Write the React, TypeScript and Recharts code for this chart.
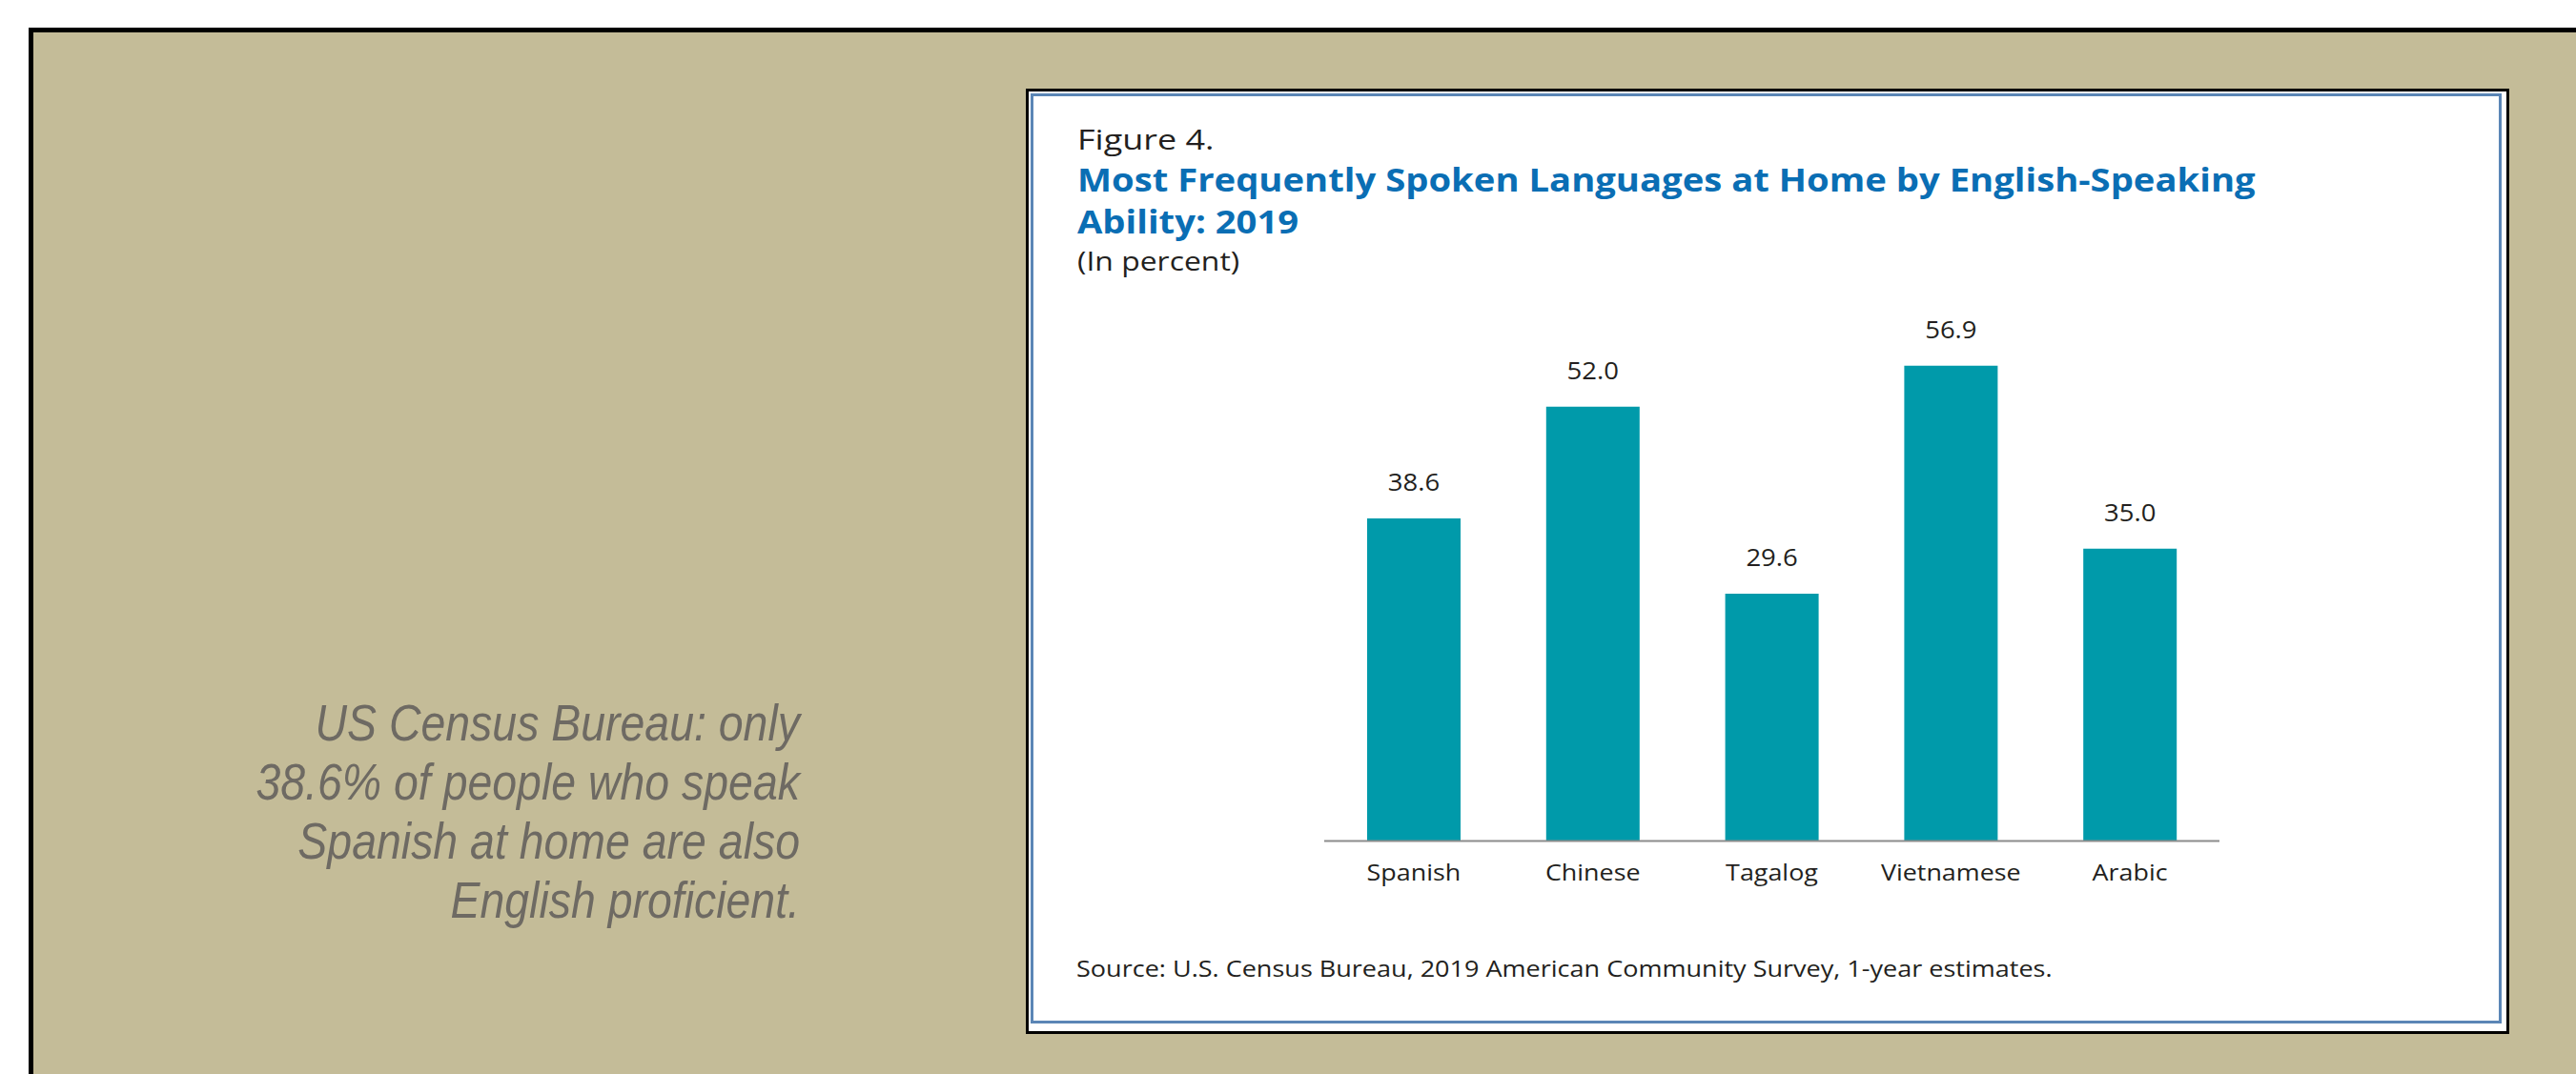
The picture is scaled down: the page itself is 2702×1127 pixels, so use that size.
import { BarChart, Bar, XAxis, YAxis, LabelList } from "recharts";

const languages = ["Spanish", "Chinese", "Tagalog", "Vietnamese", "Arabic"];
const percents = [38.6, 52.0, 29.6, 56.9, 35.0];
const yDomain = [0, 60];

const noteLines = [
  "US Census Bureau: only",
  "38.6% of people who speak",
  "Spanish at home are also",
  "English proficient.",
];

const figureLabel = "Figure 4.";
const titleLines = [
  "Most Frequently Spoken Languages at Home by English-Speaking",
  "Ability: 2019",
];
const unitLabel = "(In percent)";
const sourceNote =
  "Source: U.S. Census Bureau, 2019 American Community Survey, 1-year estimates.";

const rows = languages.map((name, i) => ({ name, value: percents[i] }));

const FONT = "'Open Sans', sans-serif";
const TEAL = "#009aaa";
const INK = "#231f20";

// horizontal stretch around an anchor x, Gotham is wider than Open Sans
const stretch = (x: number, k: number) =>
  `translate(${x} 0) scale(${k} 1) translate(${-x} 0)`;

function LangTick(props: any) {
  const { x, y, payload } = props;
  return (
    <text
      x={x}
      y={y}
      dy="0.71em"
      textAnchor="middle"
      fontFamily={FONT}
      fontSize={24}
      fill={INK}
      transform={stretch(x, 1.12)}
    >
      {payload.value}
    </text>
  );
}

function ValueLabel(props: any) {
  const { x, y, width, value } = props;
  const cx = x + width / 2;
  return (
    <text
      x={cx}
      y={y - 29}
      textAnchor="middle"
      fontFamily={FONT}
      fontSize={25}
      fill={INK}
      transform={stretch(cx, 1.1)}
    >
      {Number(value).toFixed(1)}
    </text>
  );
}

export default function App() {
  return (
    <div
      style={{
        position: "absolute",
        left: 0,
        top: 0,
        width: 2702,
        height: 1127,
        overflow: "hidden",
        background: "#fff",
      }}
    >
      {/* beige outer frame, runs off the right and bottom edge */}
      <div
        style={{
          position: "absolute",
          left: 30,
          top: 29,
          width: 2720,
          height: 1160,
          background: "#c4bc98",
          border: "5px solid #000",
          boxSizing: "border-box",
        }}
      />
      {/* figure panel */}
      <div
        style={{
          position: "absolute",
          left: 1076,
          top: 93,
          width: 1556,
          height: 992,
          background: "#fff",
          border: "3px solid #000",
          boxSizing: "border-box",
        }}
      />
      <div
        style={{
          position: "absolute",
          left: 1081,
          top: 98,
          width: 1543,
          height: 976,
          border: "3px solid #5b86b6",
          boxSizing: "border-box",
        }}
      />

      <svg
        width={2702}
        height={1127}
        style={{ position: "absolute", left: 0, top: 0 }}
      >
        <g transform={stretch(839, 0.86)}>
          {noteLines.map((t, i) => (
            <text
              key={t}
              x={839}
              y={777 + i * 62}
              textAnchor="end"
              fontFamily="'Liberation Sans Narrow', 'Liberation Sans', sans-serif"
              fontStyle="italic"
              fontSize={54}
              fill="#6e6a63"
            >
              {t}
            </text>
          ))}
        </g>
        <text
          x={1130}
          y={157}
          fontFamily={FONT}
          fontSize={30}
          fill={INK}
          transform={stretch(1130, 1.2)}
        >
          {figureLabel}
        </text>
        <g transform={stretch(1130, 1.125)}>
          {titleLines.map((t, i) => (
            <text
              key={t}
              x={1130}
              y={201 + i * 44}
              fontFamily={FONT}
              fontWeight="bold"
              fontSize={34}
              fill="#0a6eb4"
            >
              {t}
            </text>
          ))}
        </g>
        <text
          x={1130}
          y={284}
          fontFamily={FONT}
          fontSize={28}
          fill={INK}
          transform={stretch(1130, 1.14)}
        >
          {unitLabel}
        </text>
        <text
          x={1129}
          y={1025}
          fontFamily={FONT}
          fontSize={24}
          fill={INK}
          transform={stretch(1129, 1.127)}
        >
          {sourceNote}
        </text>
      </svg>

      <div style={{ position: "absolute", left: 1300, top: 300 }}>
        <BarChart
          width={1120}
          height={700}
          data={rows}
          margin={{ top: 56.5, right: 92, bottom: 57.5, left: 89 }}
        >
          <XAxis
            dataKey="name"
            height={60}
            tickLine={false}
            axisLine={{ stroke: "#8c8c8c", strokeWidth: 2 }}
            tickMargin={18}
            tick={<LangTick />}
          />
          <YAxis hide domain={yDomain} />
          <Bar
            dataKey="value"
            fill={TEAL}
            barSize={98}
            isAnimationActive={false}
          >
            <LabelList dataKey="value" content={<ValueLabel />} />
          </Bar>
        </BarChart>
      </div>
    </div>
  );
}
